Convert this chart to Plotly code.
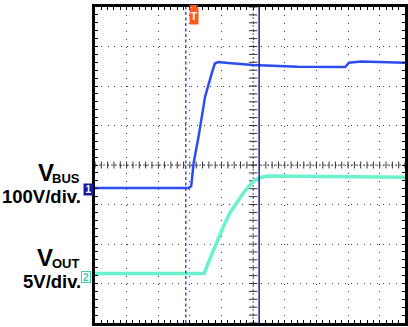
import plotly.graph_objects as go
import numpy as np

# ---------------- data (time in horizontal divisions, volts) ----------------
t_bus = [0.00, 2.96, 3.04, 3.12, 3.27, 3.48, 3.69, 3.79, 3.90, 4.21, 4.99, 6.40, 7.91, 8.03, 8.40, 9.00, 9.80]
v_bus = [0, 0, 4, 64, 128, 231, 290, 315, 319, 316, 311, 307, 306, 317, 320, 318, 317]

t_out = [0.00, 3.45, 3.637, 3.803, 4.053, 4.263, 4.444, 4.679, 4.889, 5.045, 5.202, 5.462, 6.40, 9.80]
v_out = [0, 0, 1.90, 3.61, 5.88, 7.66, 8.80, 10.13, 11.14, 11.77, 12.12, 12.35, 12.3, 12.2]

label_bus = ["V", "BUS", "100V/div."]
label_out = ["V", "OUT", "5V/div."]

CH1_V_PER_DIV = 100.0
CH2_V_PER_DIV = 5.0
CH1_OFFSET_DIV = -0.58
CH2_OFFSET_DIV = -2.747
TRIGGER_T = 2.87
CURSOR_T = 5.19

# ---------------- geometry ----------------
W, H = 408, 327
ML, MT, MR, MB = 95, 7, 0, 4
PW, PH = W - ML - MR, H - MT - MB
XMAX = 9.8


def pp(px, py):
    return (px - ML) / PW, (MT + PH - py) / PH


y_bus = [CH1_OFFSET_DIV + v / CH1_V_PER_DIV for v in v_bus]
y_out = [CH2_OFFSET_DIV + v / CH2_V_PER_DIV for v in v_out]

fig = go.Figure()

# centre cross-hair with sub-division ticks
sub_x = np.round(np.arange(0, XMAX + 1e-9, 0.2), 3)
sub_y = np.round(np.arange(-4, 4 + 1e-9, 0.2), 3)
fig.add_trace(go.Scatter(x=[0, XMAX], y=[0, 0], mode="lines",
                         line=dict(color="#555", width=1, dash="2px,2px"),
                         hoverinfo="skip", showlegend=False))
fig.add_trace(go.Scatter(x=[5, 5], y=[-4, 4], mode="lines",
                         line=dict(color="#555", width=1, dash="2px,2px"),
                         hoverinfo="skip", showlegend=False))
fig.add_trace(go.Scatter(x=sub_x, y=np.zeros_like(sub_x), mode="markers",
                         marker=dict(symbol="line-ns", size=5, line=dict(color="#333", width=1)),
                         hoverinfo="skip", showlegend=False))
fig.add_trace(go.Scatter(x=np.full_like(sub_y, 5.0), y=sub_y, mode="markers",
                         marker=dict(symbol="line-ew", size=6, line=dict(color="#333", width=1)),
                         hoverinfo="skip", showlegend=False))

# waveforms
fig.add_trace(go.Scatter(x=t_out, y=y_out, mode="lines",
                         line=dict(color="#6af2cc", width=3.5), showlegend=False, name="VOUT"))
fig.add_trace(go.Scatter(x=t_bus, y=y_bus, mode="lines",
                         line=dict(color="#2a4cf0", width=2.5), showlegend=False, name="VBUS"))

axis_common = dict(showline=True, linewidth=3, linecolor="black", mirror="allticks",
                   ticks="inside", ticklen=3, tickwidth=1, tickcolor="black",
                   showticklabels=False, zeroline=False, showgrid=True, gridwidth=1,
                   gridcolor="#444")
fig.update_layout(
    width=W, height=H, margin=dict(l=ML, r=MR, t=MT, b=MB),
    paper_bgcolor="white", plot_bgcolor="white",
    xaxis=dict(range=[0, XMAX], dtick=1, tick0=0, griddash="1px,6.9px",
               minor=dict(dtick=0.2, tick0=0, ticks="inside", ticklen=3, tickcolor="black", showgrid=False),
               **axis_common),
    yaxis=dict(range=[-4, 4], dtick=1, tick0=0, griddash="1px,5.4px",
               minor=dict(dtick=0.2, tick0=0, ticks="inside", ticklen=3, tickcolor="black", showgrid=False),
               **axis_common),
)

# cursors
fig.add_shape(type="line", xref="x", yref="paper", x0=TRIGGER_T, x1=TRIGGER_T, y0=0, y1=1,
              line=dict(color="#2f45e0", width=1.4, dash="3px,2.5px"))
fig.add_shape(type="line", xref="x", yref="paper", x0=CURSOR_T, x1=CURSOR_T, y0=0, y1=1,
              line=dict(color="#1c1c96", width=1.5))

FONT = "Liberation Sans, Arial, sans-serif"


def ann(text, px, py, size, color="black", xanchor="right", **kw):
    x, y = pp(px, py)
    fig.add_annotation(text=text, x=x, y=y, xref="paper", yref="paper", showarrow=False,
                       xanchor=xanchor, yanchor="middle", borderpad=0,
                       font=dict(family=FONT, size=size, color=color), **kw)


# channel labels
ann("<b>" + label_bus[0] + "</b>", 55, 172.5, 24)
ann("<b>" + label_bus[1] + "</b>", 81, 178, 13)
ann("<b>" + label_bus[2] + "</b>", 82, 196, 18.5)
ann("<b>" + label_out[0] + "</b>", 54, 257.5, 24)
ann("<b>" + label_out[1] + "</b>", 81, 263, 13)
ann("<b>" + label_out[2] + "</b>", 82, 281, 18.5)

# channel ground markers
ann("<b>1</b>", 88, 189, 10, color="white", xanchor="center", bgcolor="#1a1aa0", width=9, height=11)
ann("<b>2</b>", 86, 277, 10, color="#3ccfa0", xanchor="center", bgcolor="white",
    bordercolor="#3ccfa0", borderwidth=1, width=8, height=10)

# trigger marker
ann("<b>T</b>", 194.5, 16, 11, color="white", xanchor="center", bgcolor="#ff5a1e", width=8, height=16)
x0, y0 = pp(189.5, 5)
x1, y1 = pp(199.5, 5)
x2, y2 = pp(194.5, 9)
fig.add_shape(type="path", xref="paper", yref="paper",
              path=f"M {x0} {y0} L {x1} {y1} L {x2} {y2} Z",
              fillcolor="#ff5a1e", line=dict(width=0))

fig.write_html("out.html", config={"displayModeBar": False},
               post_script="document.body.style.margin='0';")
